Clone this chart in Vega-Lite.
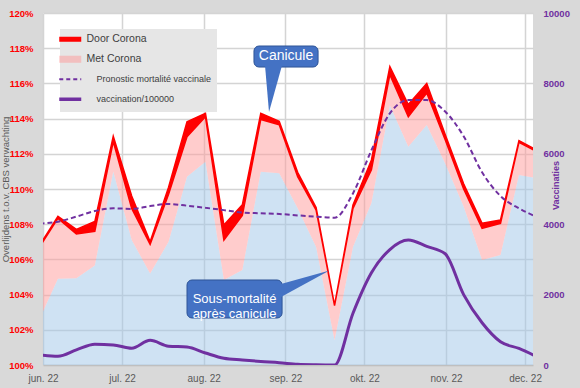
{
  "$schema": "https://vega.github.io/schema/vega-lite/v6.json",
  "width": 490,
  "height": 352,
  "autosize": {"type": "none"},
  "padding": {"left": 43, "top": 13, "right": 47, "bottom": 23},
  "background": "#d9d9d9",
  "config": {
    "view": {"fill": "white", "stroke": null},
    "font": "Liberation Sans",
    "axisLeft": {"grid": true, "gridColor": "#d4d4d4", "gridWidth": 1.5, "labelOverlap": false, "labelColor": "#ff0000", "labelFontWeight": "bold", "labelFontSize": 9.5, "labelPadding": 10, "ticks": false, "domain": false},
    "axisRight": {"grid": false, "labelOverlap": false, "labelColor": "#7030a0", "labelFontWeight": "bold", "labelFontSize": 9.5, "labelPadding": 10, "ticks": false, "domain": false},
    "axisBottom": {"grid": true, "gridColor": "#d4d4d4", "gridWidth": 1.5, "labelColor": "#595959", "labelFontSize": 10, "labelPadding": 8, "labelFlush": false, "ticks": false, "domainColor": "#bfbfbf", "domainWidth": 1.5}
  },
  "datasets": {
    "weeks": [
      {"d":"2022-05-30T16:00:00","b":102.6,"p":106.7,"r":106.8,"f":108.03,"v":290},
      {"d":"2022-06-06T16:00:00","b":104.9,"p":108.33,"r":108.45,"f":108.14,"v":250},
      {"d":"2022-06-13T16:00:00","b":104.93,"p":107.45,"r":107.7,"f":108.43,"v":430},
      {"d":"2022-06-20T16:00:00","b":105.65,"p":107.6,"r":108.15,"f":108.75,"v":590},
      {"d":"2022-06-27T16:00:00","b":111.0,"p":112.7,"r":113.0,"f":108.9,"v":570},
      {"d":"2022-07-04T16:00:00","b":107.1,"p":108.9,"r":109.6,"f":108.87,"v":475},
      {"d":"2022-07-11T16:00:00","b":105.2,"p":106.85,"r":107.0,"f":109.03,"v":700},
      {"d":"2022-07-18T16:00:00","b":107.0,"p":109.7,"r":110.1,"f":109.15,"v":535},
      {"d":"2022-07-25T16:00:00","b":110.7,"p":112.97,"r":113.82,"f":109.05,"v":510},
      {"d":"2022-08-01T16:00:00","b":111.55,"p":114.1,"r":114.3,"f":108.93,"v":340},
      {"d":"2022-08-08T16:00:00","b":104.83,"p":107.1,"r":107.95,"f":108.8,"v":190},
      {"d":"2022-08-15T16:00:00","b":105.4,"p":108.5,"r":109.1,"f":108.66,"v":142},
      {"d":"2022-08-22T16:00:00","b":110.98,"p":113.95,"r":114.3,"f":108.62,"v":100},
      {"d":"2022-08-29T16:00:00","b":110.9,"p":113.65,"r":113.85,"f":108.58,"v":66},
      {"d":"2022-09-05T16:00:00","b":108.9,"p":110.7,"r":110.95,"f":108.5,"v":20},
      {"d":"2022-09-12T16:00:00","b":106.7,"p":108.8,"r":108.95,"f":108.43,"v":5},
      {"d":"2022-09-19T16:00:00","b":101.4,"p":103.38,"r":103.4,"f":108.37,"v":0},
      {"d":"2022-09-26T16:00:00","b":106.7,"p":108.9,"r":109.1,"f":109.75,"v":1470},
      {"d":"2022-10-03T16:00:00","b":109.2,"p":111.1,"r":111.65,"f":112.2,"v":2620},
      {"d":"2022-10-10T16:00:00","b":114.75,"p":116.5,"r":116.95,"f":114.3,"v":3280},
      {"d":"2022-10-17T16:00:00","b":112.4,"p":114.1,"r":114.8,"f":115.05,"v":3550},
      {"d":"2022-10-24T16:00:00","b":113.64,"p":115.45,"r":116.0,"f":115.05,"v":3370},
      {"d":"2022-10-31T16:00:00","b":111.45,"p":112.8,"r":113.1,"f":114.4,"v":3160},
      {"d":"2022-11-07T16:00:00","b":109.0,"p":110.0,"r":110.3,"f":113.0,"v":2000},
      {"d":"2022-11-14T16:00:00","b":105.97,"p":107.77,"r":108.05,"f":110.95,"v":1200},
      {"d":"2022-11-21T16:00:00","b":106.25,"p":108.05,"r":108.24,"f":109.6,"v":660},
      {"d":"2022-11-28T16:00:00","b":110.8,"p":112.65,"r":112.75,"f":108.9,"v":470},
      {"d":"2022-12-05T16:00:00","b":110.6,"p":112.1,"r":112.2,"f":108.4,"v":230}
    ],
    "boxes": [
      {"name":"Canicule","x1":"2022-08-20T02:00:00","x2":"2022-09-13T10:00:00","y1":118.125,"y2":116.93,"tx":"2022-09-01T06:00:00","ty":117.53,"text":"Canicule"},
      {"name":"Sous","x1":"2022-07-25T16:00:00","x2":"2022-08-30T18:00:00","y1":104.83,"y2":102.67,"tx":"2022-08-12T17:00:00","ty":103.75,"text":"Sous-mortalité\naprès canicule"}
    ],
    "pointers": [
      {"name":"Canicule","x":"2022-08-24T07:00:00","top":116.99,"bot":116.99},
      {"name":"Canicule","x":"2022-08-25T19:00:00","top":116.99,"bot":114.375},
      {"name":"Canicule","x":"2022-08-30T16:00:00","top":116.99,"bot":116.99},
      {"name":"Sous","x":"2022-08-30T08:00:00","top":104.6,"bot":103.86},
      {"name":"Sous","x":"2022-09-17T18:00:00","top":105.37,"bot":105.37}
    ]
  },
  "data": {"name": "weeks"},
  "layer": [
    {
      "layer": [
        {
          "mark": {"type": "area", "color": "#9fc5e7", "fillOpacity": 0.5, "clip": true},
          "encoding": {
            "x": {
              "field": "d", "type": "temporal",
              "scale": {"domain": [{"year":2022,"month":6,"date":1},{"year":2022,"month":12,"date":4}]},
              "axis": {
                "title": null,
                "tickCount": {"interval": "month", "step": 1},
                "labelExpr": "['jan.','feb.','mrt.','apr.','mei','jun.','jul.','aug.','sep.','okt.','nov.','dec.'][month(datum.value)] + ' 22'"
              }
            },
            "y": {
              "field": "b", "type": "quantitative",
              "scale": {"domain": [100, 120], "nice": false, "zero": false},
              "axis": {
                "title": "Overlijdens t.o.v. CBS verwachting",
                "values": [100,102,104,106,108,110,112,114,116,118,120],
                "tickCount": 11,
                "labelExpr": "datum.value + '%'",
                "grid": true, "gridColor": "#d4d4d4", "gridWidth": 1.5, "labelOverlap": false,
                "titleColor": "#595959", "titleFontSize": 9.5, "titleFontWeight": "normal",
                "titleX": -33, "titleY": 176, "titleBaseline": "bottom"
              }
            },
            "y2": {"datum": 100}
          }
        },
        {
          "mark": {"type": "area", "fillOpacity": 0.5, "clip": true},
          "encoding": {
            "x": {"field": "d", "type": "temporal"},
            "y": {"field": "p", "type": "quantitative"},
            "y2": {"field": "b"},
            "color": {
              "datum": "Met Corona",
              "scale": {
                "domain": ["Door Corona", "Met Corona", "Pronostic mortalité vaccinale", "vaccination/100000"],
                "range": ["#ff0000", "#ff9999", "#7030a0", "#7030a0"]
              },
              "legend": {
                "orient": "none", "legendX": 17, "legendY": 16, "title": null,
                "fillColor": "#e6e6e6", "padding": 5,
                "symbolType": "stroke", "symbolSize": 484, "symbolStrokeWidth": 5,
                "gridAlign": "all", "rowPadding": -13, "labelOffset": 11,
                "labelFont": "Liberation Sans", "labelFontSize": 10, "labelColor": "#404040",
                "encode": {
                  "symbols": {"update": {
                    "stroke": {"scale": "color", "field": "value"},
                    "opacity": {"signal": "datum.value === 'Met Corona' ? 0.5 : 1"},
                    "strokeWidth": {"signal": "datum.value === 'Door Corona' ? 5 : datum.value === 'Met Corona' ? 7 : datum.value === 'vaccination/100000' ? 3.5 : 2.2"},
                    "strokeDash": {"signal": "datum.value === 'Pronostic mortalité vaccinale' ? [4, 3] : [1, 0]"}
                  }},
                  "labels": {"update": {
                    "dx": {"signal": "(datum.value === 'Pronostic mortalité vaccinale' || datum.value === 'vaccination/100000') ? 10 : 0"},
                    "fontSize": {"signal": "(datum.value === 'Pronostic mortalité vaccinale' || datum.value === 'vaccination/100000') ? 9 : 10.5"}
                  }}
                }
              }
            }
          }
        },
        {
          "mark": {"type": "area", "stroke": "#ff0000", "strokeWidth": 1.5, "clip": true},
          "encoding": {
            "x": {"field": "d", "type": "temporal"},
            "y": {"field": "r", "type": "quantitative"},
            "y2": {"field": "p"},
            "color": {"datum": "Door Corona"}
          }
        },
        {
          "mark": {"type": "line", "interpolate": "monotone", "strokeWidth": 2, "strokeDash": [5, 3], "clip": true},
          "encoding": {
            "x": {"field": "d", "type": "temporal"},
            "y": {"field": "f", "type": "quantitative"},
            "color": {"datum": "Pronostic mortalité vaccinale"}
          }
        },
        {
          "data": {"name": "boxes"},
          "mark": {"type": "rect", "fill": "#4472c4", "stroke": "#2f5597", "strokeWidth": 1, "cornerRadius": 5},
          "encoding": {
            "x": {"field": "x1", "type": "temporal"},
            "x2": {"field": "x2"},
            "y": {"field": "y1", "type": "quantitative"},
            "y2": {"field": "y2"}
          }
        },
        {
          "data": {"name": "pointers"},
          "mark": {"type": "area", "fill": "#4472c4"},
          "encoding": {
            "x": {"field": "x", "type": "temporal"},
            "y": {"field": "top", "type": "quantitative"},
            "y2": {"field": "bot"},
            "detail": {"field": "name"}
          }
        },
        {
          "data": {"name": "boxes"},
          "transform": [{"filter": "datum.name === 'Canicule'"}],
          "mark": {"type": "text", "color": "white", "fontSize": 14, "align": "center", "baseline": "middle"},
          "encoding": {
            "x": {"field": "tx", "type": "temporal"},
            "y": {"field": "ty", "type": "quantitative"},
            "text": {"field": "text"}
          }
        },
        {
          "data": {"name": "boxes"},
          "transform": [{"filter": "datum.name === 'Sous'"}],
          "mark": {"type": "text", "color": "white", "fontSize": 13, "align": "center", "baseline": "middle", "lineBreak": "\n", "lineHeight": 15},
          "encoding": {
            "x": {"field": "tx", "type": "temporal"},
            "y": {"field": "ty", "type": "quantitative"},
            "text": {"field": "text"}
          }
        }
      ]
    },
    {
      "mark": {"type": "line", "interpolate": "monotone", "strokeWidth": 3, "clip": true},
      "encoding": {
        "x": {"field": "d", "type": "temporal"},
        "y": {
          "field": "v", "type": "quantitative",
          "scale": {"domain": [0, 10000], "nice": false},
          "axis": {
            "orient": "right", "title": "Vaccinaties",
            "values": [0, 2000, 4000, 6000, 8000, 10000], "format": "d",
            "grid": false,
            "titleColor": "#7030a0", "titleFontSize": 9, "titleFontWeight": "bold",
            "titleAngle": 270, "titleX": 27, "titleY": 172, "titleBaseline": "bottom"
          }
        },
        "color": {"datum": "vaccination/100000"}
      }
    }
  ],
  "resolve": {"scale": {"y": "independent"}}
}
